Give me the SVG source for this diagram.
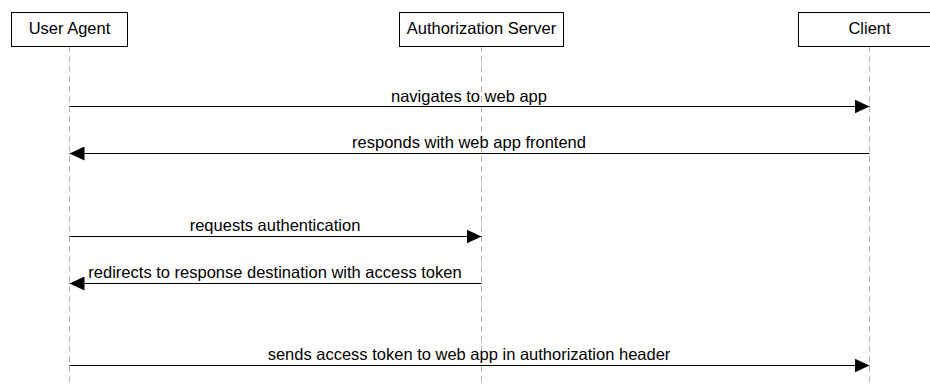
<svg xmlns="http://www.w3.org/2000/svg" width="930" height="385" viewBox="0 0 930 385">
<style>
.box{fill:#fff;stroke:#000;stroke-width:1}
.life{stroke:#b3b3b3;stroke-width:1;stroke-dasharray:6,4}
.msg{stroke:#000;stroke-width:1;fill:none}
text{font-family:"Liberation Sans",Arial,sans-serif;font-size:16.5px;fill:#000;text-anchor:middle}
</style>
<defs>
<marker id="ah" viewBox="0 0 15 14" refX="15" refY="7" markerWidth="15" markerHeight="14" markerUnits="userSpaceOnUse" orient="auto">
<path d="M0,0 L15,7 L0,14 Z" fill="#000"/>
</marker>
</defs>
<rect width="930" height="385" fill="#fff"/>
<g id="lifelines">
<line class="life" x1="69.5" y1="46" x2="69.5" y2="385"/>
<line class="life" x1="481.5" y1="46" x2="481.5" y2="385"/>
<line class="life" x1="869.5" y1="46" x2="869.5" y2="385"/>
</g>
<g id="user-agent">
<rect class="box" x="11.5" y="12.5" width="116" height="34"/>
<text x="69.5" y="34">User Agent</text>
</g>
<g id="authorization-server">
<rect class="box" x="399.5" y="12.5" width="164" height="34"/>
<text x="481.5" y="34">Authorization Server</text>
</g>
<g id="client">
<rect class="box" x="798.5" y="12.5" width="142" height="34"/>
<text x="869.5" y="34">Client</text>
</g>
<g id="connectors">
<line class="msg" x1="69.5" y1="106.5" x2="869.5" y2="106.5" marker-end="url(#ah)"/>
<text x="469" y="102">navigates to web app</text>
<line class="msg" x1="869.5" y1="153.5" x2="69.5" y2="153.5" marker-end="url(#ah)"/>
<text x="469" y="148">responds with web app frontend</text>
<line class="msg" x1="69.5" y1="236.5" x2="481.5" y2="236.5" marker-end="url(#ah)"/>
<text x="275" y="231">requests authentication</text>
<line class="msg" x1="481.5" y1="283.5" x2="69.5" y2="283.5" marker-end="url(#ah)"/>
<text x="275" y="278">redirects to response destination with access token</text>
<line class="msg" x1="69.5" y1="365.5" x2="869.5" y2="365.5" marker-end="url(#ah)"/>
<text x="469" y="360">sends access token to web app in authorization header</text>
</g>
</svg>
